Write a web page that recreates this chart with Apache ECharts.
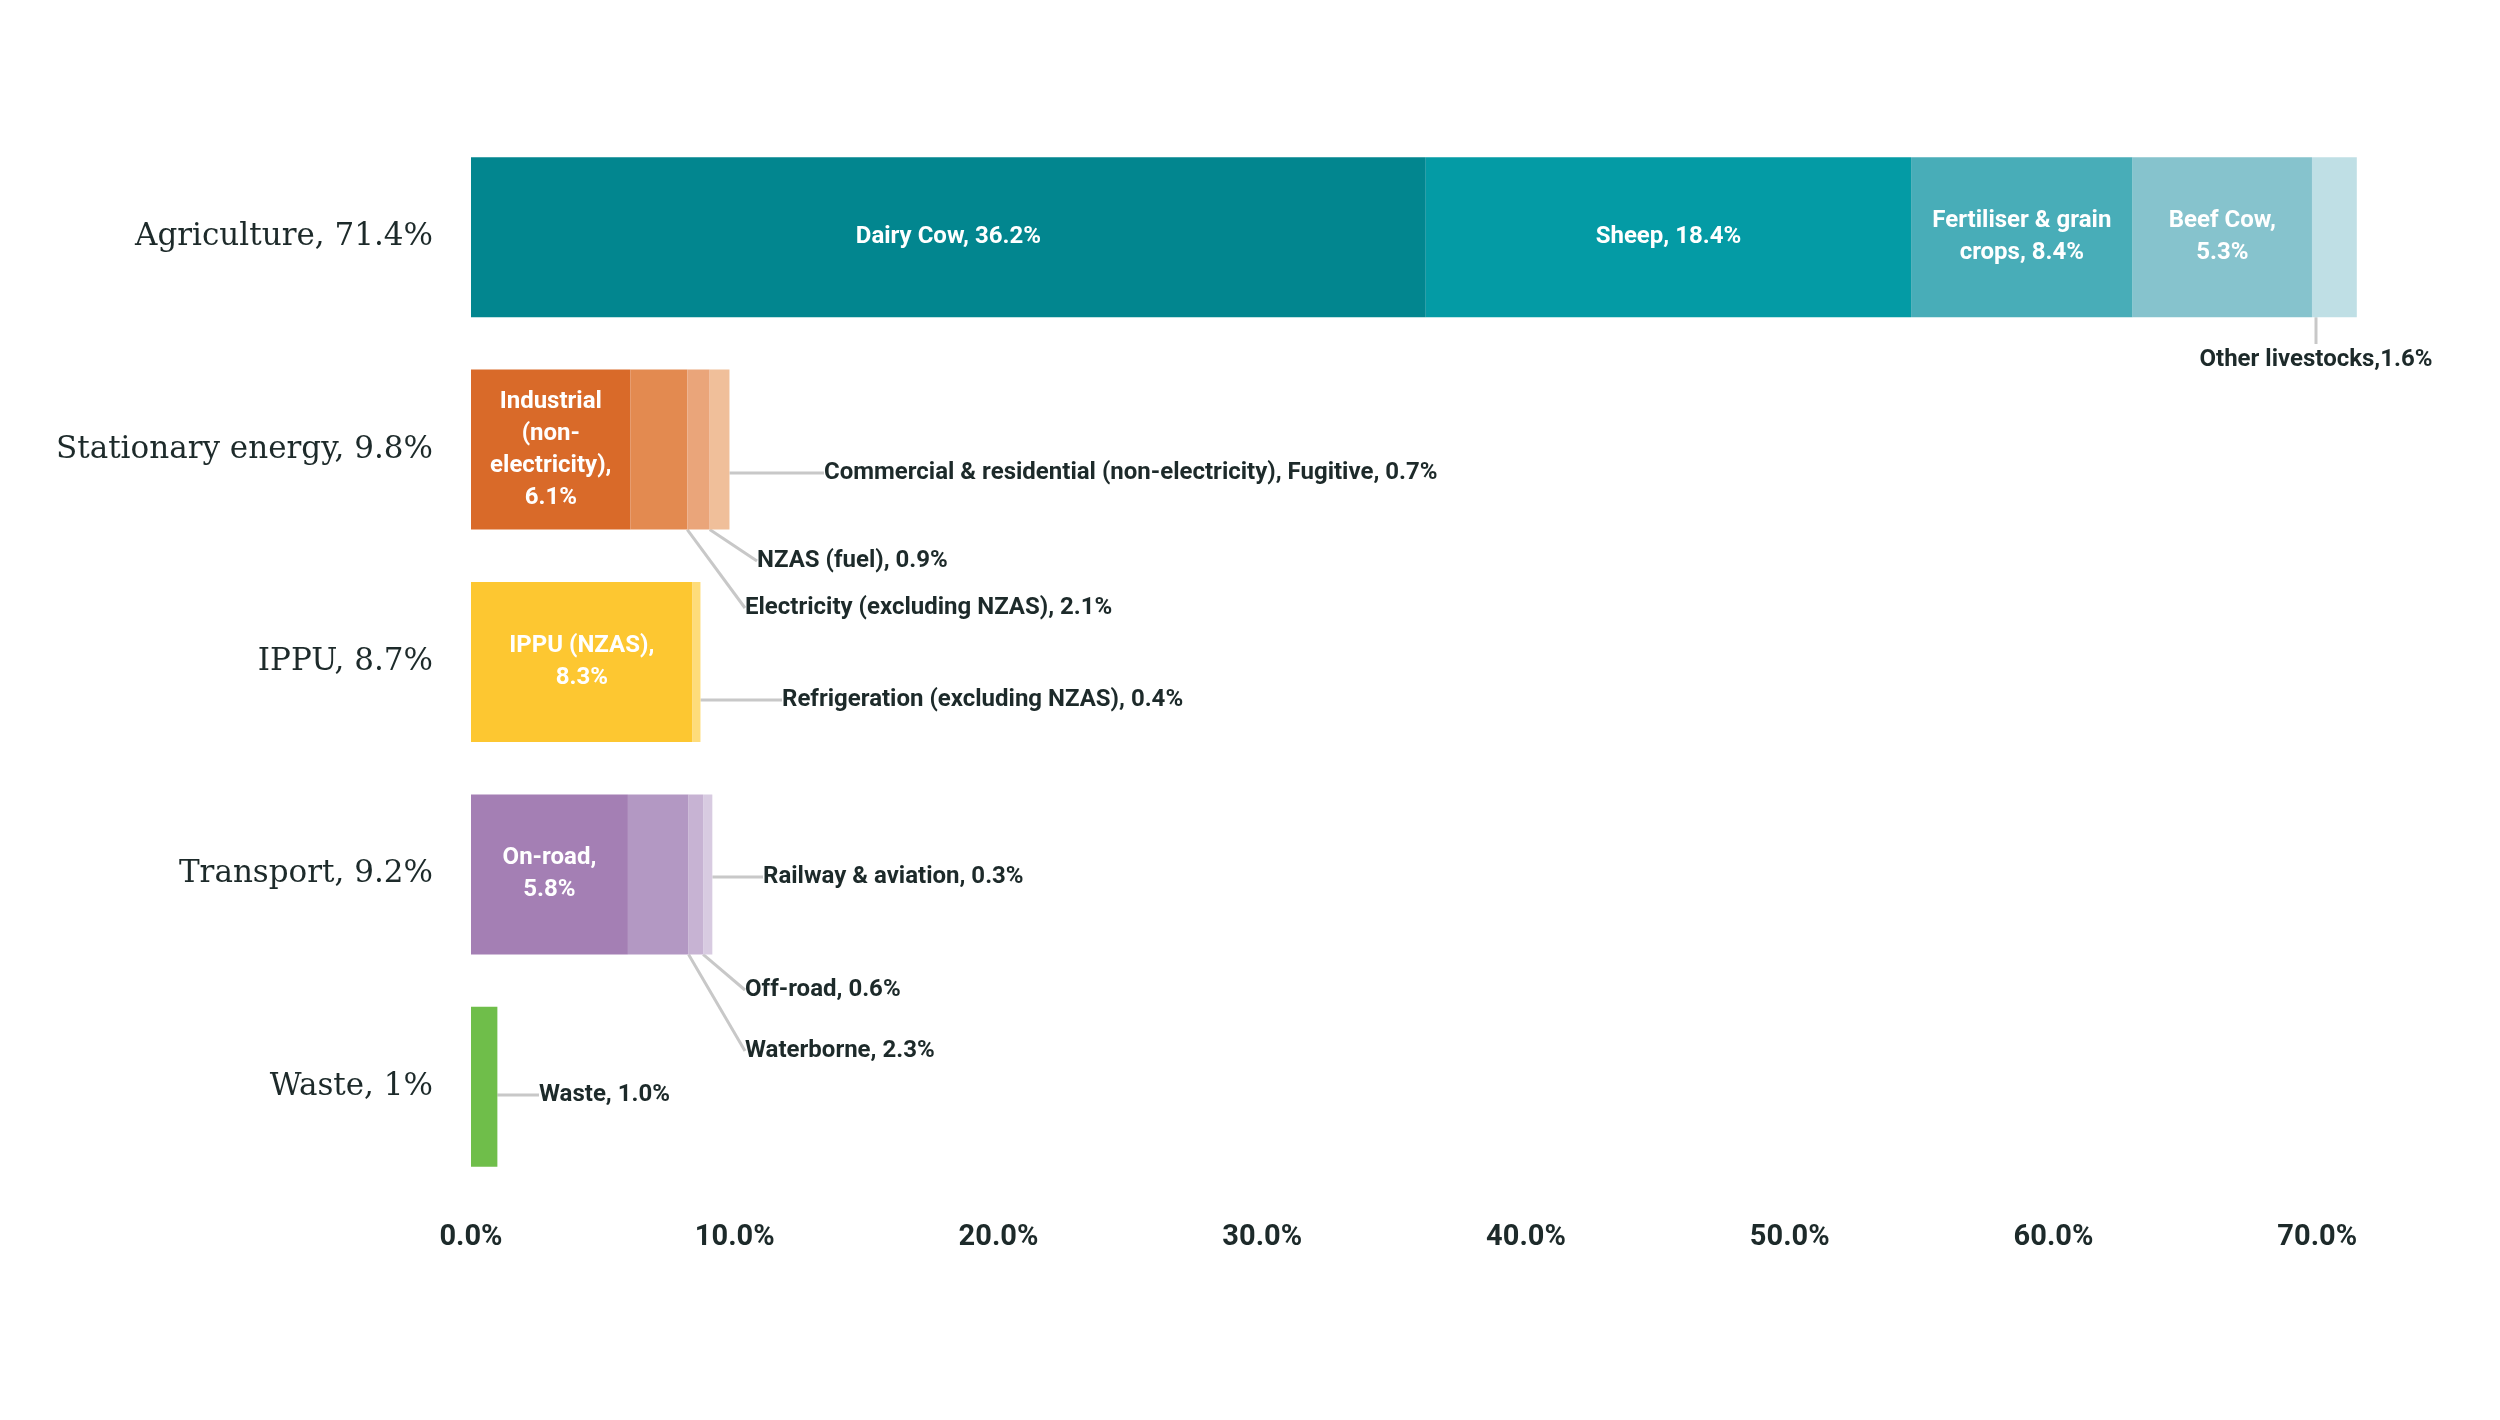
<!DOCTYPE html>
<html><head><meta charset="utf-8">
<script src="https://cdn.jsdelivr.net/npm/echarts@6/dist/echarts.min.js"></script>
<style>html,body{margin:0;background:#fff}#c{width:2500px;height:1420px}</style>
</head><body><div id="c"></div>
<script>
const categories = ['Agriculture, 71.4%','Stationary energy, 9.8%','IPPU, 8.7%','Transport, 9.2%','Waste, 1%'];
const xTicks = [0,10,20,30,40,50,60,70];
const agriValues = [36.2,18.4,8.4,6.8,1.7];
const agriLabels = ['Dairy Cow, 36.2%','Sheep, 18.4%','Fertiliser & grain\ncrops, 8.4%','Beef Cow,\n5.3%','Other livestocks,1.6%'];
const energyValues = [6.05,2.15,0.85,0.75];
const energyLabels = ['Industrial\n(non-\nelectricity),\n6.1%','Electricity (excluding NZAS), 2.1%','NZAS (fuel), 0.9%','Commercial & residential (non-electricity), Fugitive, 0.7%'];
const ippuValues = [8.4,0.3];
const ippuLabels = ['IPPU (NZAS),\n8.3%','Refrigeration (excluding NZAS), 0.4%'];
const transportValues = [5.95,2.3,0.55,0.35];
const transportLabels = ['On-road,\n5.8%','Waterborne, 2.3%','Off-road, 0.6%','Railway & aviation, 0.3%'];
const wasteValues = [1.0];
const wasteLabels = ['Waste, 1.0%'];

const values = [agriValues,energyValues,ippuValues,transportValues,wasteValues];
const labels = [agriLabels,energyLabels,ippuLabels,transportLabels,wasteLabels];
const colors = [
 ['#02868f','#049ba5','#48adb8','#86c3cd','#bfdfe5'],
 ['#d96a29','#e38a50','#eaa57a','#f0bf9a'],
 ['#fdc731','#fedc7a'],
 ['#a47fb4','#b398c3','#c7b3d3','#d8cbe1'],
 ['#6fbe4a']
];
// outside label placement (pixel anchor, style only); null = inside
const outPos = [
 [null,null,null,null,[2316,360,'center']],
 [null,[745,608],[757,561],[824,473]],
 [null,[782,700]],
 [null,[745,1051],[745,990],[763,877]],
 [[539,1095]]
];
const series = [];
for (let s=0;s<5;s++){
  const data = categories.map((c,ci)=>{
    const v = values[ci][s];
    if (v===undefined) return null;
    const out = outPos[ci][s];
    return {
      value:v,
      itemStyle:{color:colors[ci][s]},
      label:{show:true, formatter:labels[ci][s],
        position: out ? 'right' : 'inside',
        color: out ? '#1d2a2a' : '#fff',
        fontFamily:'Roboto', fontWeight:'bold', fontSize: 24, lineHeight: 32, align: out? (out[2]||'left') : 'center'},
      labelLine:{show: !!out, lineStyle:{color:'#c8c8c8', width:3}}
    };
  });
  series.push({type:'bar', stack:'a', barWidth:160, data,
    labelLayout:function(p){
      const out = outPos[p.dataIndex][s];
      if(!out) return {};
      return {x:out[0], y:out[1], align:out[2]||'left', verticalAlign:'middle'};
    }});
}
const chart = echarts.init(document.getElementById('c'));
chart.setOption({
  animation:false,
  grid:{left:471,right:130,top:131,bottom:227},
  xAxis:{type:'value',min:0,max:72,interval:10,splitLine:{show:false},axisLine:{show:false},axisTick:{show:false},
    axisLabel:{margin:30,fontFamily:'Roboto',fontWeight:'bold',fontSize:29,color:'#1d2a2a',
      formatter:v=>xTicks.includes(v)?v.toFixed(1)+'%':''}},
  yAxis:{type:'category',inverse:true,data:categories,axisLine:{show:false},axisTick:{show:false},
    axisLabel:{margin:38,fontFamily:'DejaVu Serif',fontSize:31,color:'#1d2a2a'}},
  series
});
</script></body></html>
